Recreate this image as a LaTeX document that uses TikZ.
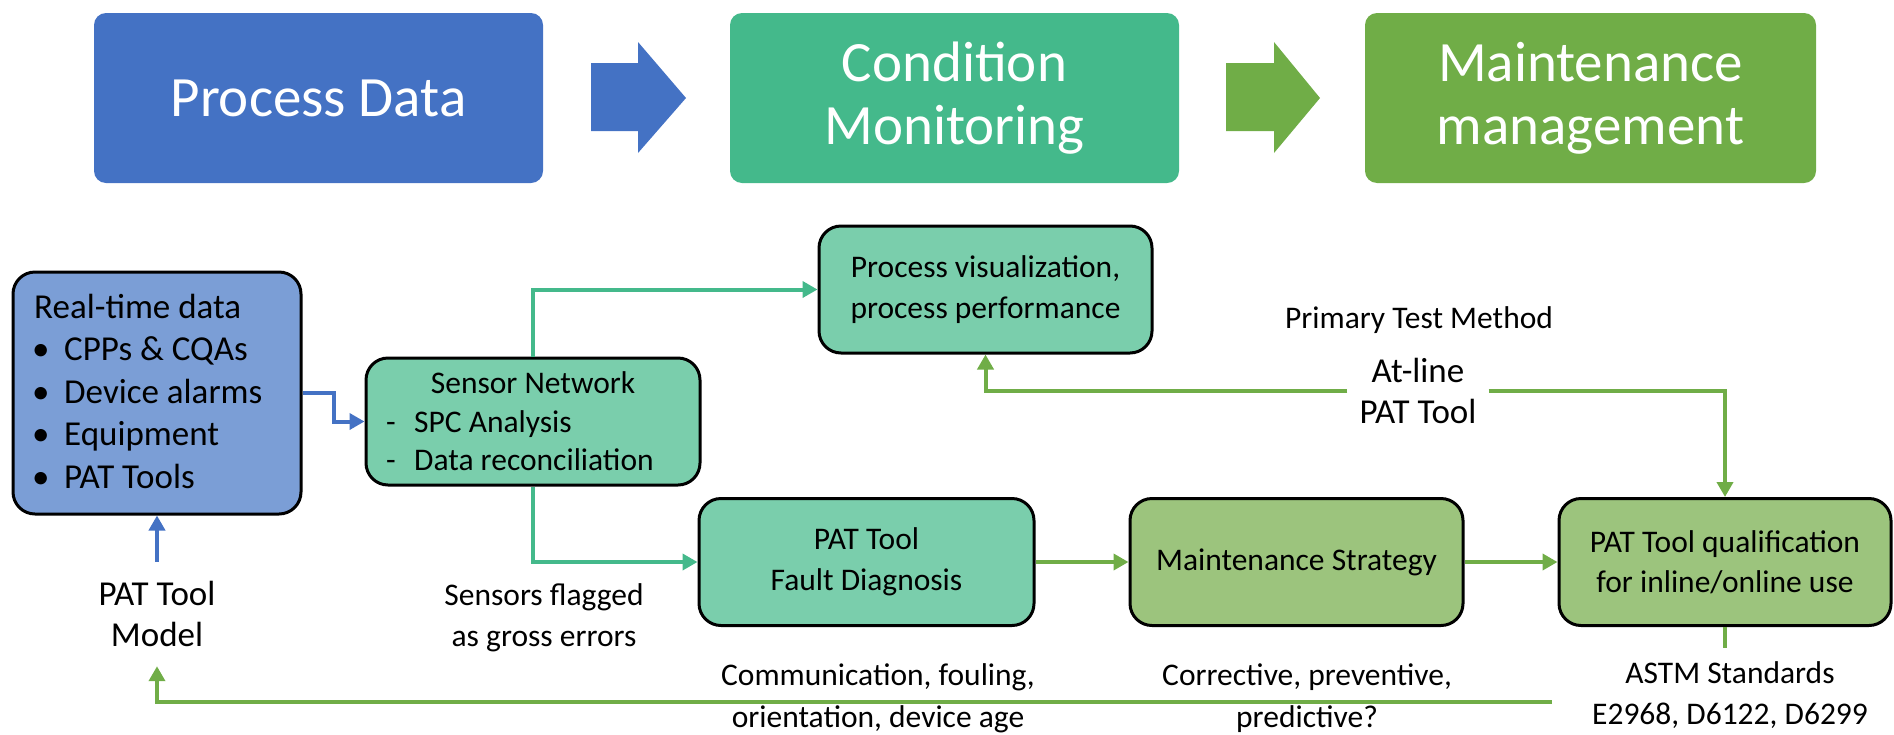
\documentclass[tikz,border=0pt]{standalone}
\usepackage{fontspec}
\setmainfont{Carlito}
\usetikzlibrary{arrows.meta,calc}
\definecolor{hdblue}{HTML}{4472C4}
\definecolor{hdteal}{HTML}{44B98B}
\definecolor{hdgreen}{HTML}{70AD47}
\definecolor{bxblue}{HTML}{7B9ED6}
\definecolor{bxteal}{HTML}{7ACEAC}
\definecolor{bxgreen}{HTML}{9CC47D}

\begin{document}
\begin{tikzpicture}[x=1pt,y=-1pt,
  header/.style={rounded corners=12pt, minimum height=170pt, text=white,
    align=center, inner sep=0pt, font=\fontsize{57}{63}\selectfont},
  stepbox/.style={draw=black, line width=3pt, rounded corners=22pt,
    minimum height=127pt, align=center, inner sep=0pt,
    font=\fontsize{31.5}{40.5}\selectfont},
  txt/.style={inner sep=0pt, font=\fontsize{31.5}{40.5}\selectfont},
  lbl/.style={align=center, inner sep=0pt, font=\fontsize{31.5}{41}\selectfont},
  lowlbl/.style={align=center, inner sep=0pt, font=\fontsize{31.5}{42}\selectfont},
  big/.style={align=center, font=\fontsize{35}{41.5}\selectfont},
  rtxt/.style={inner sep=0pt, anchor=base west, font=\fontsize{35}{42}\selectfont},
  conn/.style={line width=4pt, -{Triangle[length=15pt,width=16pt]}},
  wire/.style={line width=4pt},
]
\useasboundingbox (0,0) rectangle (1894,734);

% --- header row -------------------------------------------------------
\node[header, fill=hdblue,  minimum width=449pt] (hpd) at (318.5,98) {Process Data};
\node[header, fill=hdteal,  minimum width=449pt] (hcm) at (954.5,98) {Condition\\Monitoring};
\node[header, fill=hdgreen, minimum width=451pt] (hmm) at (1590.5,98) {Maintenance\\management};

% block arrows between the header boxes
\fill[hdblue]  (591,63) -- (638,63) -- (638,42) -- (686,98) -- (638,153) -- (638,131) -- (591,131) -- cycle;
\fill[hdgreen] (1226,63) -- (1274,63) -- (1274,42) -- (1320,98) -- (1274,153) -- (1274,131) -- (1226,131) -- cycle;

% --- real-time data box ------------------------------------------------
\node[stepbox, fill=bxblue, minimum width=288pt, minimum height=242pt] (rt) at (157,393) {};
\node[rtxt] (rt0) at (34,318) {Real-time data};
\node[rtxt] (rtb1) at (32,360.5) {\textbullet};
\node[rtxt] (rtb2) at (32,403) {\textbullet};
\node[rtxt] (rtb3) at (32,445.5) {\textbullet};
\node[rtxt] (rtb4) at (32,488) {\textbullet};
\node[rtxt] (rt1) at (64,360.5) {CPPs \& CQAs};
\node[rtxt] (rt2) at (64,403) {Device alarms};
\node[rtxt] (rt3) at (64,445.5) {Equipment};
\node[rtxt] (rt4) at (64,488) {PAT Tools};

% --- sensor network box ------------------------------------------------
\node[stepbox, fill=bxteal, minimum width=334pt] (sn) at (533,421.5) {};
\node[txt, anchor=base] (sn0) at (533,393) {Sensor Network};
\node[txt, anchor=base west] (snd1) at (386,432) {-};
\node[txt, anchor=base west] (snd2) at (386,470) {-};
\node[txt, anchor=base west] (sn1) at (414,432) {SPC Analysis};
\node[txt, anchor=base west] (sn2) at (414,470) {Data reconciliation};

% --- remaining process boxes -------------------------------------------
\node[stepbox, fill=bxteal,  minimum width=333pt] (pv) at (985.5,289.5) {Process visualization,\\process performance};
\node[stepbox, fill=bxteal,  minimum width=335pt] (fd) at (866.5,562) {PAT Tool\\Fault Diagnosis};
\node[stepbox, fill=bxgreen, minimum width=333pt] (ms) at (1296.5,562) {Maintenance Strategy};
\node[stepbox, fill=bxgreen, minimum width=332pt] (pq) at (1725,562) {PAT Tool qualification\\for inline/online use};

% --- free-standing labels ---------------------------------------------
\node[big, inner xsep=2pt, inner ysep=19pt] (ptm) at (157,614) {PAT Tool\\Model};
\node[big, inner xsep=12pt, inner ysep=0pt] (atl) at (1418,391) {At-line\\PAT Tool};
\node[txt, anchor=base] (primary) at (1419,328) {Primary Test Method};
\node[lbl] (flag) at (544,618) {Sensors flagged\\as gross errors};
\node[lowlbl] (causes) at (878,698) {Communication, fouling,\\orientation, device age};
\node[lowlbl] (strat) at (1307,698) {Corrective, preventive,\\predictive?};
\node[lbl] (astm) at (1730,695.5) {ASTM Standards\\E2968, D6122, D6299};

\coordinate (stubend) at (1725,648);
\coordinate (fbstart) at (1552,702);

% --- connectors ---------------------------------------------------------
\draw[conn, hdblue] (rt.east) -| ($(rt.east)!0.5!(sn.west)$) |- (sn.west);
\draw[conn, hdblue] (ptm.north) -- (rt.south);
\draw[conn, hdteal] (sn.north) |- (pv.west);
\draw[conn, hdteal] (sn.south) |- (fd.west);
\draw[conn, hdgreen] (fd.east) -- (ms.west);
\draw[conn, hdgreen] (ms.east) -- (pq.west);
\draw[conn, hdgreen] (atl.west) -| (pv.south);
\draw[conn, hdgreen] (atl.east) -| (pq.north);
\draw[wire, hdgreen] (pq.south) -- (stubend);
\draw[conn, hdgreen] (fbstart) -| (ptm.south);
\end{tikzpicture}
\end{document}
